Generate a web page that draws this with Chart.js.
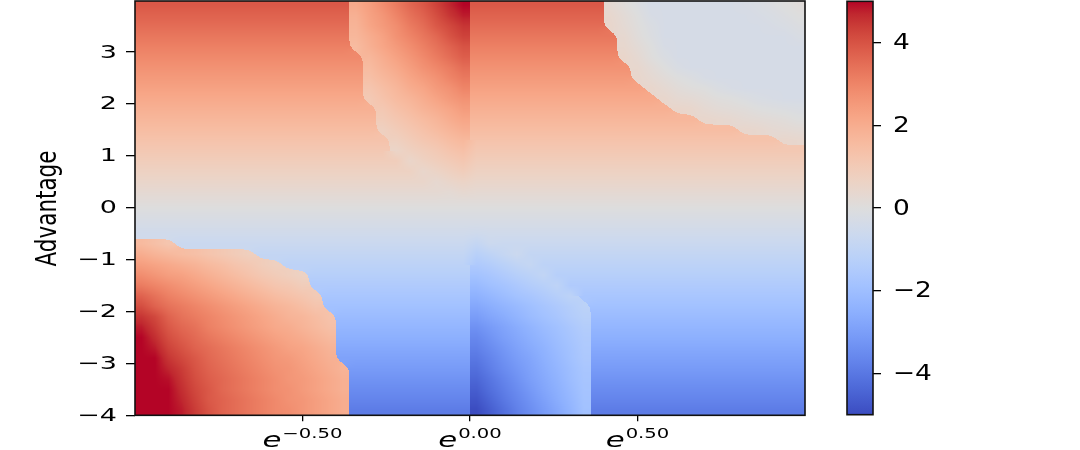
<!DOCTYPE html>
<html><head><meta charset="utf-8">
<script src="https://cdn.jsdelivr.net/npm/chart.js@4.4.1/dist/chart.umd.min.js"></script>
<style>html,body{margin:0;padding:0;background:#fff;}#wrap{position:relative;width:1080px;height:450px;}canvas{position:absolute;left:0;top:0;}</style>
</head><body><div id="wrap"><canvas id="main" width="1080" height="450"></canvas><canvas id="cbar" width="1080" height="450"></canvas></div>
<script>
// x: log of the probability ratio (cell centres), y: advantage (cell centres, top to bottom)
const logRatio = [-0.98,-0.94,-0.90,-0.86,-0.82,-0.78,-0.74,-0.70,-0.66,-0.62,-0.58,-0.54,-0.50,-0.46,-0.42,-0.38,-0.34,-0.30,-0.26,-0.22,-0.18,-0.14,-0.10,-0.06,-0.02,
  0.02,0.06,0.10,0.14,0.18,0.22,0.26,0.30,0.34,0.38,0.42,0.46,0.50,0.54,0.58,0.62,0.66,0.70,0.74,0.78,0.82,0.86,0.90,0.94,0.98];
const advantage = [3.9,3.7,3.5,3.3,3.1,2.9,2.7,2.5,2.3,2.1,1.9,1.7,1.5,1.3,1.1,0.9,0.7,0.5,0.3,0.1,
  -0.1,-0.3,-0.5,-0.7,-0.9,-1.1,-1.3,-1.5,-1.7,-1.9,-2.1,-2.3,-2.5,-2.7,-2.9,-3.1,-3.3,-3.5,-3.7,-3.9];
const values = [
[3.9,3.9,3.9,3.9,3.9,3.9,3.9,3.9,3.9,3.9, 3.9,3.9,3.9,3.9,3.9,3.9, 2.1,2.4,2.8,3.2,3.6,3.9,4.3,4.7,5.1, 3.9,3.9,3.9,3.9,3.9,3.9,3.9,3.9,3.9,3.9, 0.3,0.1,-0.1,-0.3,-0.3,-0.3,-0.3,-0.3,-0.3,-0.3,-0.25,-0.2,-0.1,0,0.1],
[3.7,3.7,3.7,3.7,3.7,3.7,3.7,3.7,3.7,3.7, 3.7,3.7,3.7,3.7,3.7,3.7, 1.9,2.3,2.6,3.0,3.4,3.7,4.1,4.5,4.8, 3.7,3.7,3.7,3.7,3.7,3.7,3.7,3.7,3.7,3.7, 0.4,0.2,0,-0.25,-0.3,-0.3,-0.3,-0.3,-0.3,-0.3,-0.3,-0.25,-0.2,-0.1,0],
[3.5,3.5,3.5,3.5,3.5,3.5,3.5,3.5,3.5,3.5, 3.5,3.5,3.5,3.5,3.5,3.5, 1.8,2.2,2.5,2.8,3.2,3.5,3.9,4.2,4.5, 3.5,3.5,3.5,3.5,3.5,3.5,3.5,3.5,3.5,3.5, 0.45,0.25,0.05,-0.15,-0.3,-0.3,-0.3,-0.3,-0.3,-0.3,-0.3,-0.3,-0.25,-0.2,-0.1],
[3.3,3.3,3.3,3.3,3.3,3.3,3.3,3.3,3.3,3.3, 3.3,3.3,3.3,3.3,3.3,3.3, 1.7,2.0,2.3,2.7,3.0,3.3,3.6,4.0,4.3, 3.3,3.3,3.3,3.3,3.3,3.3,3.3,3.3,3.3,3.3, 3.3, 0.35,0.1,-0.1,-0.3,-0.3,-0.3,-0.3,-0.3,-0.3,-0.3,-0.3,-0.3,-0.3,-0.2],
[3.1,3.1,3.1,3.1,3.1,3.1,3.1,3.1,3.1,3.1, 3.1,3.1,3.1,3.1,3.1,3.1, 1.55,1.9,2.2,2.5,2.8,3.1,3.4,3.7,4.0, 3.1,3.1,3.1,3.1,3.1,3.1,3.1,3.1,3.1,3.1, 3.1, 0.4,0.2,0,-0.25,-0.3,-0.3,-0.3,-0.3,-0.3,-0.3,-0.3,-0.3,-0.3,-0.3],
[2.9,2.9,2.9,2.9,2.9,2.9,2.9,2.9,2.9,2.9, 2.9,2.9,2.9,2.9,2.9,2.9,2.9, 1.7,2.0,2.3,2.6,2.9,3.2,3.5,3.8, 2.9,2.9,2.9,2.9,2.9,2.9,2.9,2.9,2.9,2.9, 2.9, 0.5,0.3,0.05,-0.15,-0.3,-0.3,-0.3,-0.3,-0.3,-0.3,-0.3,-0.3,-0.3,-0.3],
[2.7,2.7,2.7,2.7,2.7,2.7,2.7,2.7,2.7,2.7, 2.7,2.7,2.7,2.7,2.7,2.7,2.7, 1.55,1.85,2.1,2.4,2.7,2.95,3.2,3.5, 2.7,2.7,2.7,2.7,2.7,2.7,2.7,2.7,2.7,2.7, 2.7,2.7, 0.4,0.2,0,-0.2,-0.3,-0.3,-0.3,-0.3,-0.3,-0.3,-0.3,-0.3,-0.3],
[2.5,2.5,2.5,2.5,2.5,2.5,2.5,2.5,2.5,2.5, 2.5,2.5,2.5,2.5,2.5,2.5,2.5, 1.4,1.65,1.9,2.2,2.45,2.7,3.0,3.25, 2.5,2.5,2.5,2.5,2.5,2.5,2.5,2.5,2.5,2.5, 2.5,2.5, 0.45,0.3,0.15,0,-0.1,-0.25,-0.3,-0.3,-0.3,-0.3,-0.3,-0.3,-0.3],
[2.3,2.3,2.3,2.3,2.3,2.3,2.3,2.3,2.3,2.3, 2.3,2.3,2.3,2.3,2.3,2.3,2.3, 1.2,1.45,1.7,2.0,2.2,2.5,2.7,3.0, 2.3,2.3,2.3,2.3,2.3,2.3,2.3,2.3,2.3,2.3, 2.3,2.3,2.3, 0.45,0.3,0.15,0.05,0,-0.15,-0.25,-0.3,-0.3,-0.3,-0.3,-0.3],
[2.1,2.1,2.1,2.1,2.1,2.1,2.1,2.1,2.1,2.1, 2.1,2.1,2.1,2.1,2.1,2.1,2.1, 1.05,1.3,1.55,1.75,2.0,2.25,2.5,2.7, 2.1,2.1,2.1,2.1,2.1,2.1,2.1,2.1,2.1,2.1, 2.1,2.1,2.1,2.1, 0.45,0.3,0.25,0.15,0.05,0,-0.1,-0.2,-0.25,-0.3,-0.3],
[1.9,1.9,1.9,1.9,1.9,1.9,1.9,1.9,1.9,1.9, 1.9,1.9,1.9,1.9,1.9,1.9,1.9,1.9, 1.1,1.35,1.55,1.8,2.0,2.2,2.45, 1.9,1.9,1.9,1.9,1.9,1.9,1.9,1.9,1.9,1.9, 1.9,1.9,1.9,1.9,1.9, 0.5,0.45,0.3,0.2,0.15,0.1,0,-0.05,-0.1,-0.15],
[1.7,1.7,1.7,1.7,1.7,1.7,1.7,1.7,1.7,1.7, 1.7,1.7,1.7,1.7,1.7,1.7,1.7,1.7, 0.95,1.15,1.35,1.55,1.75,2.0,2.2, 1.7,1.7,1.7,1.7,1.7,1.7,1.7,1.7,1.7,1.7, 1.7,1.7,1.7,1.7,1.7,1.7,1.7, 0.45,0.4,0.35,0.25,0.2,0.15,0.1,0],
[1.5,1.5,1.5,1.5,1.5,1.5,1.5,1.5,1.5,1.5, 1.5,1.5,1.5,1.5,1.5,1.5,1.5,1.5, 0.75,0.95,1.15,1.35,1.55,1.75,1.95, 1.5,1.5,1.5,1.5,1.5,1.5,1.5,1.5,1.5,1.5, 1.5,1.5,1.5,1.5,1.5,1.5,1.5,1.5,1.5,1.5, 0.45,0.4,0.3,0.25,0.2],
[1.3,1.3,1.3,1.3,1.3,1.3,1.3,1.3,1.3,1.3, 1.3,1.3,1.3,1.3,1.3,1.3,1.3,1.3,1.3, 0.75,0.95,1.15,1.3,1.5,1.65, 1.3,1.3,1.3,1.3,1.3,1.3,1.3,1.3,1.3,1.3, 1.3,1.3,1.3,1.3,1.3,1.3,1.3,1.3,1.3,1.3, 1.3,1.3,1.3, 0.45,0.4],
[1.1,1.1,1.1,1.1,1.1,1.1,1.1,1.1,1.1,1.1, 1.1,1.1,1.1,1.1,1.1,1.1,1.1,1.1,1.1, 0.55,0.75,0.9,1.05,1.25,1.4, 1.1,1.1,1.1,1.1,1.1,1.1,1.1,1.1,1.1,1.1, 1.1,1.1,1.1,1.1,1.1,1.1,1.1,1.1,1.1,1.1, 1.1,1.1,1.1,1.1,1.1],
[0.9,0.9,0.9,0.9,0.9,0.9,0.9,0.9,0.9,0.9, 0.9,0.9,0.9,0.9,0.9,0.9,0.9,0.9,0.9,0.9, 0.5,0.7,0.85,1.0,1.15, 0.9,0.9,0.9,0.9,0.9,0.9,0.9,0.9,0.9,0.9, 0.9,0.9,0.9,0.9,0.9,0.9,0.9,0.9,0.9,0.9, 0.9,0.9,0.9,0.9,0.9],
[0.7,0.7,0.7,0.7,0.7,0.7,0.7,0.7,0.7,0.7, 0.7,0.7,0.7,0.7,0.7,0.7,0.7,0.7,0.7,0.7, 0.7, 0.45,0.6,0.75,0.9, 0.7,0.7,0.7,0.7,0.7,0.7,0.7,0.7,0.7,0.7, 0.7,0.7,0.7,0.7,0.7,0.7,0.7,0.7,0.7,0.7, 0.7,0.7,0.7,0.7,0.7],
[0.5,0.5,0.5,0.5,0.5,0.5,0.5,0.5,0.5,0.5, 0.5,0.5,0.5,0.5,0.5,0.5,0.5,0.5,0.5,0.5, 0.5,0.5, 0.35,0.5,0.6, 0.5,0.5,0.5,0.5,0.5,0.5,0.5,0.5,0.5,0.5, 0.5,0.5,0.5,0.5,0.5,0.5,0.5,0.5,0.5,0.5, 0.5,0.5,0.5,0.5,0.5],
[0.3,0.3,0.3,0.3,0.3,0.3,0.3,0.3,0.3,0.3, 0.3,0.3,0.3,0.3,0.3,0.3,0.3,0.3,0.3,0.3, 0.3,0.3,0.3, 0.25,0.35, 0.3,0.3,0.3,0.3,0.3,0.3,0.3,0.3,0.3,0.3, 0.3,0.3,0.3,0.3,0.3,0.3,0.3,0.3,0.3,0.3, 0.3,0.3,0.3,0.3,0.3],
[0.1,0.1,0.1,0.1,0.1,0.1,0.1,0.1,0.1,0.1, 0.1,0.1,0.1,0.1,0.1,0.1,0.1,0.1,0.1,0.1, 0.1,0.1,0.1,0.1,0.1, 0.1,0.1,0.1,0.1,0.1,0.1,0.1,0.1,0.1,0.1, 0.1,0.1,0.1,0.1,0.1,0.1,0.1,0.1,0.1,0.1, 0.1,0.1,0.1,0.1,0.1],
[-0.1,-0.1,-0.1,-0.1,-0.1,-0.1,-0.1,-0.1,-0.1,-0.1, -0.1,-0.1,-0.1,-0.1,-0.1,-0.1,-0.1,-0.1,-0.1,-0.1, -0.1,-0.1,-0.1,-0.1,-0.1, -0.1,-0.1,-0.1,-0.1,-0.1,-0.1,-0.1,-0.1,-0.1,-0.1, -0.1,-0.1,-0.1,-0.1,-0.1,-0.1,-0.1,-0.1,-0.1,-0.1, -0.1,-0.1,-0.1,-0.1,-0.1],
[-0.3,-0.3,-0.3,-0.3,-0.3,-0.3,-0.3,-0.3,-0.3,-0.3, -0.3,-0.3,-0.3,-0.3,-0.3,-0.3,-0.3,-0.3,-0.3,-0.3, -0.3,-0.3,-0.3,-0.3,-0.3, -0.3,-0.3,-0.3,-0.3,-0.3,-0.3,-0.3,-0.3,-0.3,-0.3, -0.3,-0.3,-0.3,-0.3,-0.3,-0.3,-0.3,-0.3,-0.3,-0.3, -0.3,-0.3,-0.3,-0.3,-0.3],
[-0.5,-0.5,-0.5,-0.5,-0.5,-0.5,-0.5,-0.5,-0.5,-0.5, -0.5,-0.5,-0.5,-0.5,-0.5,-0.5,-0.5,-0.5,-0.5,-0.5, -0.5,-0.5,-0.5,-0.5,-0.5, -0.55, -0.5,-0.5,-0.5,-0.5,-0.5,-0.5,-0.5,-0.5,-0.5,-0.5, -0.5,-0.5,-0.5,-0.5,-0.5,-0.5,-0.5,-0.5,-0.5,-0.5, -0.5,-0.5,-0.5,-0.5],
[1.6,1.4,1.2, -0.7,-0.7,-0.7,-0.7,-0.7,-0.7,-0.7,-0.7,-0.7,-0.7, -0.7,-0.7,-0.7,-0.7,-0.7,-0.7,-0.7,-0.7,-0.7,-0.7, -0.7,-0.7, -0.9,-0.65, -0.7,-0.7,-0.7,-0.7,-0.7,-0.7,-0.7,-0.7,-0.7,-0.7, -0.7,-0.7,-0.7,-0.7,-0.7,-0.7,-0.7,-0.7,-0.7,-0.7, -0.7,-0.7,-0.7],
[2.0,1.8,1.65,1.5,1.4,1.25,1.1,0.95,0.8, -0.9,-0.9,-0.9,-0.9,-0.9,-0.9,-0.9,-0.9,-0.9,-0.9, -0.9,-0.9,-0.9,-0.9,-0.9,-0.9, -1.25,-1.05,-0.85,-0.65, -0.9,-0.9,-0.9,-0.9,-0.9,-0.9,-0.9,-0.9,-0.9,-0.9, -0.9,-0.9,-0.9,-0.9,-0.9,-0.9,-0.9,-0.9,-0.9,-0.9, -0.9],
[2.4,2.25,2.1,1.95,1.8,1.6,1.45,1.25,1.1,0.9,0.75, -1.1,-1.1,-1.1,-1.1,-1.1,-1.1,-1.1,-1.1,-1.1,-1.1, -1.1,-1.1,-1.1,-1.1, -1.55,-1.4,-1.2,-1.0,-0.85, -1.1,-1.1,-1.1,-1.1,-1.1,-1.1,-1.1,-1.1,-1.1,-1.1, -1.1,-1.1,-1.1,-1.1,-1.1,-1.1,-1.1,-1.1,-1.1,-1.1],
[2.8,2.6,2.4,2.3,2.1,1.9,1.7,1.5,1.3,1.1,0.95,0.8,0.65, -1.3,-1.3,-1.3,-1.3,-1.3,-1.3,-1.3,-1.3,-1.3,-1.3, -1.3,-1.3, -1.85,-1.7,-1.5,-1.3,-1.15,-0.95, -1.3,-1.3,-1.3,-1.3,-1.3,-1.3,-1.3,-1.3,-1.3,-1.3, -1.3,-1.3,-1.3,-1.3,-1.3,-1.3,-1.3,-1.3,-1.3],
[3.2,3.0,2.8,2.6,2.4,2.2,2.0,1.8,1.6,1.4,1.2,1.1,0.9, -1.5,-1.5,-1.5,-1.5,-1.5,-1.5,-1.5,-1.5,-1.5,-1.5, -1.5,-1.5, -2.15,-1.95,-1.8,-1.6,-1.4,-1.25,-1.05, -1.5,-1.5,-1.5,-1.5,-1.5,-1.5,-1.5,-1.5,-1.5,-1.5, -1.5,-1.5,-1.5,-1.5,-1.5,-1.5,-1.5,-1.5],
[3.7,3.4,3.1,2.9,2.7,2.5,2.3,2.1,1.9,1.7,1.5,1.35,1.2,1.0, -1.7,-1.7,-1.7,-1.7,-1.7,-1.7,-1.7,-1.7,-1.7,-1.7, -1.7, -2.45,-2.25,-2.05,-1.85,-1.7,-1.5,-1.3,-1.1, -1.7,-1.7,-1.7,-1.7,-1.7,-1.7,-1.7,-1.7,-1.7,-1.7, -1.7,-1.7,-1.7,-1.7,-1.7,-1.7,-1.7],
[4.1,3.7,3.4,3.2,3.0,2.8,2.6,2.4,2.2,2.0,1.8,1.65,1.45,1.25, -1.9,-1.9,-1.9,-1.9,-1.9,-1.9,-1.9,-1.9,-1.9,-1.9, -1.9, -2.75,-2.55,-2.35,-2.15,-1.95,-1.75,-1.55,-1.35,-1.15, -1.9,-1.9,-1.9,-1.9,-1.9,-1.9,-1.9,-1.9,-1.9,-1.9, -1.9,-1.9,-1.9,-1.9,-1.9,-1.9],
[4.5,4.2,3.7,3.4,3.2,3.0,2.8,2.6,2.4,2.2,2.0,1.8,1.7,1.5,1.3, -2.1,-2.1,-2.1,-2.1,-2.1,-2.1,-2.1,-2.1,-2.1,-2.1, -3.05,-2.8,-2.6,-2.35,-2.1,-1.9,-1.7,-1.45,-1.25, -2.1,-2.1,-2.1,-2.1,-2.1,-2.1,-2.1,-2.1,-2.1,-2.1, -2.1,-2.1,-2.1,-2.1,-2.1,-2.1],
[4.8,4.4,3.9,3.6,3.4,3.1,2.9,2.7,2.5,2.3,2.1,2.0,1.8,1.6,1.4, -2.3,-2.3,-2.3,-2.3,-2.3,-2.3,-2.3,-2.3,-2.3,-2.3, -3.35,-3.1,-2.85,-2.6,-2.35,-2.1,-1.9,-1.65,-1.4, -2.3,-2.3,-2.3,-2.3,-2.3,-2.3,-2.3,-2.3,-2.3,-2.3, -2.3,-2.3,-2.3,-2.3,-2.3,-2.3],
[5.0,4.6,4.1,3.8,3.55,3.3,3.1,2.9,2.7,2.5,2.3,2.15,2.0,1.8,1.6, -2.5,-2.5,-2.5,-2.5,-2.5,-2.5,-2.5,-2.5,-2.5,-2.5, -3.6,-3.3,-3.0,-2.75,-2.5,-2.25,-2.0,-1.75,-1.5, -2.5,-2.5,-2.5,-2.5,-2.5,-2.5,-2.5,-2.5,-2.5,-2.5, -2.5,-2.5,-2.5,-2.5,-2.5,-2.5],
[5.3,4.8,4.3,4.0,3.7,3.5,3.3,3.1,2.9,2.7,2.5,2.3,2.2,2.0,1.8, -2.7,-2.7,-2.7,-2.7,-2.7,-2.7,-2.7,-2.7,-2.7,-2.7, -3.8,-3.5,-3.2,-2.9,-2.65,-2.4,-2.1,-1.85,-1.55, -2.7,-2.7,-2.7,-2.7,-2.7,-2.7,-2.7,-2.7,-2.7,-2.7, -2.7,-2.7,-2.7,-2.7,-2.7,-2.7],
[5.5,5.0,4.5,4.2,3.9,3.6,3.4,3.2,3.0,2.8,2.6,2.5,2.3,2.1,1.9, -2.9,-2.9,-2.9,-2.9,-2.9,-2.9,-2.9,-2.9,-2.9,-2.9, -4.0,-3.7,-3.35,-3.05,-2.8,-2.5,-2.2,-1.9,-1.6, -2.9,-2.9,-2.9,-2.9,-2.9,-2.9,-2.9,-2.9,-2.9,-2.9, -2.9,-2.9,-2.9,-2.9,-2.9,-2.9],
[5.8,5.1,4.7,4.4,4.0,3.7,3.5,3.3,3.1,2.9,2.7,2.6,2.4,2.2,2.0,1.8, -3.1,-3.1,-3.1,-3.1,-3.1,-3.1,-3.1,-3.1,-3.1, -4.2,-3.85,-3.5,-3.2,-2.9,-2.6,-2.3,-2.0,-1.7, -3.1,-3.1,-3.1,-3.1,-3.1,-3.1,-3.1,-3.1,-3.1,-3.1, -3.1,-3.1,-3.1,-3.1,-3.1,-3.1],
[6.1,5.4,4.9,4.5,4.1,3.8,3.6,3.4,3.2,3.0,2.8,2.6,2.5,2.3,2.1,1.9, -3.3,-3.3,-3.3,-3.3,-3.3,-3.3,-3.3,-3.3,-3.3, -4.4,-4.05,-3.7,-3.35,-3.0,-2.7,-2.4,-2.05,-1.75, -3.3,-3.3,-3.3,-3.3,-3.3,-3.3,-3.3,-3.3,-3.3,-3.3, -3.3,-3.3,-3.3,-3.3,-3.3,-3.3],
[6.4,5.7,5.0,4.6,4.2,3.9,3.6,3.4,3.2,3.0,2.8,2.7,2.5,2.3,2.1,1.9, -3.5,-3.5,-3.5,-3.5,-3.5,-3.5,-3.5,-3.5,-3.5, -4.6,-4.2,-3.85,-3.5,-3.15,-2.8,-2.5,-2.15,-1.8, -3.5,-3.5,-3.5,-3.5,-3.5,-3.5,-3.5,-3.5,-3.5,-3.5, -3.5,-3.5,-3.5,-3.5,-3.5,-3.5],
[6.7,5.9,5.2,4.7,4.3,3.9,3.7,3.5,3.3,3.1,2.9,2.7,2.6,2.4,2.2,2.0, -3.7,-3.7,-3.7,-3.7,-3.7,-3.7,-3.7,-3.7,-3.7, -4.8,-4.4,-4.0,-3.65,-3.3,-2.95,-2.6,-2.25,-1.85, -3.7,-3.7,-3.7,-3.7,-3.7,-3.7,-3.7,-3.7,-3.7,-3.7, -3.7,-3.7,-3.7,-3.7,-3.7,-3.7],
[7.0,6.2,5.4,4.8,4.4,4.0,3.7,3.5,3.3,3.1,2.9,2.8,2.6,2.4,2.2,2.0, -3.9,-3.9,-3.9,-3.9,-3.9,-3.9,-3.9,-3.9,-3.9, -5.0,-4.6,-4.2,-3.8,-3.45,-3.1,-2.75,-2.35,-1.9, -3.9,-3.9,-3.9,-3.9,-3.9,-3.9,-3.9,-3.9,-3.9,-3.9, -3.9,-3.9,-3.9,-3.9,-3.9,-3.9]
];
const xTickValues = [-0.5, 0, 0.5];
const xTickExponents = ['\u22120.50', '0.00', '0.50'];
const yTickValues = [-4, -3, -2, -1, 0, 1, 2, 3];
const cbarTickValues = [-4, -2, 0, 2, 4];
const yTitle = 'Advantage';
const vMin = -5, vMax = 5;

const COOLWARM = [[59,76,192],[68,90,204],[77,104,215],[87,117,225],[98,130,234],[108,142,241],[119,154,247],[130,165,251],[141,176,254],[152,185,255],[163,194,255],[174,201,253],[184,208,249],[194,213,244],[204,217,238],[213,219,230],[221,221,221],[229,216,209],[236,211,197],[241,204,185],[245,196,173],[247,187,160],[247,177,148],[247,166,135],[244,154,123],[241,141,111],[236,127,99],[229,112,88],[222,96,77],[213,80,66],[203,62,56],[192,40,47],[180,4,38]];
function rgbOf(v){
  let t = (v - vMin) / (vMax - vMin); t = Math.max(0, Math.min(1, t));
  const f = t * (COOLWARM.length - 1), i = Math.min(COOLWARM.length - 2, Math.floor(f)), r = f - i;
  const a = COOLWARM[i], b = COOLWARM[i + 1];
  return [a[0] + (b[0] - a[0]) * r, a[1] + (b[1] - a[1]) * r, a[2] + (b[2] - a[2]) * r];
}
const clipV = v => Math.max(vMin, Math.min(vMax, v));
const nC = logRatio.length, nR = advantage.length;
const cv = (j, i) => clipV(values[j][i]);

// a jump between two neighbouring cells is kept sharp when it stands out from the local gradient
function isStep(d, dPrev, dNext){ return d > 0.62 || (d > 0.3 && d > 2.2 * Math.max(dPrev, dNext)); }
const stepH = values.map((row, j) => row.slice(0, -1).map((_, i) => isStep(
  Math.abs(cv(j, i + 1) - cv(j, i)),
  i > 0 ? Math.abs(cv(j, i) - cv(j, i - 1)) : 0,
  i + 2 < nC ? Math.abs(cv(j, i + 2) - cv(j, i + 1)) : 0)));
const stepV = values.slice(0, -1).map((row, j) => row.map((_, i) => isStep(
  Math.abs(cv(j + 1, i) - cv(j, i)),
  j > 0 ? Math.abs(cv(j, i) - cv(j - 1, i)) : 0,
  j + 2 < nR ? Math.abs(cv(j + 2, i) - cv(j + 1, i)) : 0)));
function linked(j1, i1, j2, i2){
  if (j1 === j2) return !stepH[j1][Math.min(i1, i2)];
  return !stepV[Math.min(j1, j2)][i1];
}

// region labels of the 4x4 cells around a block, grown from the block's corners
const labelCache = new Map();
function blockLabels(i0, j0, comp){
  const key = j0 * nC + i0;
  if (labelCache.has(key)) return labelCache.get(key);
  const iMin = Math.max(0, i0 - 1), iMax = Math.min(nC - 1, i0 + 2), jMin = Math.max(0, j0 - 1), jMax = Math.min(nR - 1, j0 + 2);
  const lab = new Map(), queue = [];
  [[j0, i0], [j0, i0 + 1], [j0 + 1, i0], [j0 + 1, i0 + 1]].forEach(([j, i], k) => { lab.set(j * nC + i, comp[k]); queue.push([j, i]); });
  for (let q = 0; q < queue.length; q++) {
    const [j, i] = queue[q], l = lab.get(j * nC + i);
    [[j, i - 1], [j, i + 1], [j - 1, i], [j + 1, i]].forEach(([jj, ii]) => {
      if (jj < jMin || jj > jMax || ii < iMin || ii > iMax) return;
      if (lab.has(jj * nC + ii) || !linked(j, i, jj, ii)) return;
      lab.set(jj * nC + ii, l); queue.push([jj, ii]);
    });
  }
  const grid = [];
  for (let b = -1; b <= 2; b++) {
    const row = [];
    for (let a = -1; a <= 2; a++) {
      const jj = Math.max(0, Math.min(nR - 1, j0 + b)), ii = Math.max(0, Math.min(nC - 1, i0 + a));
      const l = lab.get(jj * nC + ii);
      row.push(l === undefined ? -1 : l);
    }
    grid.push(row);
  }
  labelCache.set(key, grid);
  return grid;
}
function bspline(t){
  const t2 = t * t, t3 = t2 * t;
  return [(1 - t) * (1 - t) * (1 - t) / 6, (3 * t3 - 6 * t2 + 4) / 6, (-3 * t3 + 3 * t2 + 3 * t + 1) / 6, t3 / 6];
}

// Gouraud-style shading between neighbouring cell centres of the same region
function shade(fi, fj){
  fi = Math.max(0, Math.min(nC - 1, fi)); fj = Math.max(0, Math.min(nR - 1, fj));
  const i0 = Math.min(nC - 2, Math.floor(fi)), j0 = Math.min(nR - 2, Math.floor(fj));
  const tx = fi - i0, ty = fj - j0;
  const c = [cv(j0, i0), cv(j0, i0 + 1), cv(j0 + 1, i0), cv(j0 + 1, i0 + 1)];
  const w = [(1 - tx) * (1 - ty), tx * (1 - ty), (1 - tx) * ty, tx * ty];
  const eT = stepH[j0][i0], eB = stepH[j0 + 1][i0], eL = stepV[j0][i0], eR = stepV[j0][i0 + 1];
  if (!eT && !eB && !eL && !eR) return w[0] * c[0] + w[1] * c[1] + w[2] * c[2] + w[3] * c[3];
  const p = [0, 1, 2, 3];
  const find = k => { while (p[k] !== k) k = p[k]; return k; };
  const unite = (a, b) => { a = find(a); b = find(b); if (a !== b) p[b] = a; };
  if (!eT) unite(0, 1); if (!eB) unite(2, 3); if (!eL) unite(0, 2); if (!eR) unite(1, 3);
  const comp = [find(0), find(1), find(2), find(3)];
  const grid = blockLabels(i0, j0, comp);
  const bx = bspline(tx), by = bspline(ty);
  const m = [0, 0, 0, 0];
  for (let b = 0; b < 4; b++) for (let a = 0; a < 4; a++) { const l = grid[b][a]; if (l >= 0) m[l] += by[b] * bx[a]; }
  let best = comp[0];
  for (let k = 0; k < 4; k++) if (m[comp[k]] > m[best]) best = comp[k];
  let ws = 0, vs = 0, n = 0, sum = 0;
  for (let k = 0; k < 4; k++) if (comp[k] === best) { ws += w[k]; vs += w[k] * c[k]; n++; sum += c[k]; }
  return ws > 1e-9 ? vs / ws : sum / n;
}
function fmt(n){ return n < 0 ? '\u2212' + Math.abs(n) : String(n); }
function sText(ctx, txt, x, y, font, sx, align, base){
  ctx.save(); ctx.translate(x, y); ctx.scale(sx, 1);
  ctx.font = font; ctx.textAlign = align; ctx.textBaseline = base; ctx.fillStyle = '#000';
  ctx.fillText(txt, 0, 0); ctx.restore();
}
const FONT = '"DejaVu Sans", "Liberation Sans", sans-serif';

const heatmapPlugin = {
  id: 'heatmap',
  beforeDatasetsDraw(chart){
    const {ctx, chartArea: a, scales: {x, y}} = chart;
    const L = Math.round(a.left), T = Math.round(a.top), W = Math.round(a.right) - L, H = Math.round(a.bottom) - T;
    const du = logRatio[1] - logRatio[0], dA = advantage[0] - advantage[1];
    const img = ctx.createImageData(W, H);
    for (let py = 0; py < H; py++) {
      const fj = (advantage[0] - y.getValueForPixel(T + py + 0.5)) / dA;
      for (let px = 0; px < W; px++) {
        const fi = (x.getValueForPixel(L + px + 0.5) - logRatio[0]) / du;
        const col = rgbOf(shade(fi, fj));
        const k = (py * W + px) * 4;
        img.data[k] = col[0]; img.data[k + 1] = col[1]; img.data[k + 2] = col[2]; img.data[k + 3] = 255;
      }
    }
    ctx.putImageData(img, L, T);
  },
  afterDraw(chart){
    const {ctx, chartArea: a, scales: {x, y}} = chart;
    ctx.save(); ctx.strokeStyle = '#111'; ctx.lineWidth = 1.6;
    ctx.strokeRect(a.left, a.top, a.right - a.left, a.bottom - a.top); ctx.restore();
    yTickValues.forEach(v => sText(ctx, fmt(v), 117, y.getPixelForValue(v) + 1, '18px ' + FONT, 1.5, 'right', 'middle'));
    xTickValues.forEach((v, k) => {
      const px = x.getPixelForValue(v);
      ctx.save();
      ctx.font = 'italic 22px ' + FONT; const we = ctx.measureText('e').width * 1.4;
      ctx.font = '14px ' + FONT; const ws = ctx.measureText(xTickExponents[k]).width * 1.4;
      ctx.restore();
      const x0 = px - (we + ws + 1) / 2;
      sText(ctx, 'e', x0, 446.5, 'italic 22px ' + FONT, 1.4, 'left', 'alphabetic');
      sText(ctx, xTickExponents[k], x0 + we + 1, 437.5, '14px ' + FONT, 1.4, 'left', 'alphabetic');
    });
    ctx.save(); ctx.translate(48.5, 208.5); ctx.scale(1.3, 1); ctx.rotate(-Math.PI / 2);
    ctx.font = '21.5px ' + FONT; ctx.textAlign = 'center'; ctx.textBaseline = 'middle'; ctx.fillStyle = '#000';
    ctx.fillText(yTitle, 0, 0); ctx.restore();
  }
};

const tickGrid = len => ({display: true, drawOnChartArea: false, drawTicks: true, tickLength: len, color: '#000', lineWidth: 1.3});

new Chart(document.getElementById('main'), {
  type: 'scatter',
  data: {datasets: [{data: []}]},
  options: {
    responsive: false, animation: false, devicePixelRatio: 1,
    layout: {padding: {left: 0, right: 275, top: 1, bottom: 0}},
    plugins: {legend: {display: false}, tooltip: {enabled: false}},
    scales: {
      x: {type: 'linear', min: -1, max: 1,
        afterBuildTicks: s => { s.ticks = xTickValues.map(v => ({value: v})); },
        afterFit: s => { s.height = 34.7; },
        ticks: {display: false}, grid: tickGrid(6), border: {display: false}},
      y: {type: 'linear', min: -4, max: 3.98,
        afterBuildTicks: s => { s.ticks = yTickValues.map(v => ({value: v})); },
        afterFit: s => { s.width = 135; },
        ticks: {display: false}, grid: tickGrid(9), border: {display: false}}
    }
  },
  plugins: [heatmapPlugin]
});

const cbarPlugin = {
  id: 'cbar',
  beforeDatasetsDraw(chart){
    const {ctx, chartArea: a, scales: {y}} = chart;
    const p0 = y.getPixelForValue(vMin), p1 = y.getPixelForValue(vMax);
    const g = ctx.createLinearGradient(0, p0, 0, p1);
    COOLWARM.forEach((c, k) => g.addColorStop(k / (COOLWARM.length - 1), 'rgb(' + c.join(',') + ')'));
    ctx.save(); ctx.fillStyle = g; ctx.fillRect(a.left, p1, a.right - a.left, p0 - p1); ctx.restore();
  },
  afterDraw(chart){
    const {ctx, chartArea: a, scales: {y}} = chart;
    ctx.save(); ctx.strokeStyle = '#111'; ctx.lineWidth = 1.6;
    ctx.strokeRect(a.left, a.top, a.right - a.left, a.bottom - a.top); ctx.restore();
    cbarTickValues.forEach(v => sText(ctx, fmt(v), 893, y.getPixelForValue(v) + 1, '22px ' + FONT, 1.2, 'left', 'middle'));
  }
};

new Chart(document.getElementById('cbar'), {
  type: 'scatter',
  data: {datasets: [{data: []}]},
  options: {
    responsive: false, animation: false, devicePixelRatio: 1,
    layout: {padding: {left: 847, right: 0, top: 1.3, bottom: 35.3}},
    plugins: {legend: {display: false}, tooltip: {enabled: false}},
    scales: {
      x: {type: 'linear', display: false, min: 0, max: 1},
      y: {type: 'linear', position: 'right', min: vMin, max: vMax,
        afterBuildTicks: s => { s.ticks = cbarTickValues.map(v => ({value: v})); },
        afterFit: s => { s.width = 207; },
        ticks: {display: false}, grid: tickGrid(8), border: {display: false}}
    }
  },
  plugins: [cbarPlugin]
});
</script>
</body></html>
